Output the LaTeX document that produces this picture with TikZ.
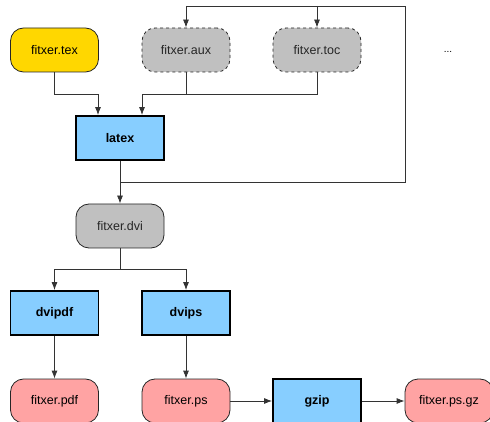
\documentclass[tikz,border=0pt]{standalone}
\usepackage{fontspec}
\setmainfont{Liberation Sans}
\usetikzlibrary{arrows.meta}
\definecolor{texfill}{HTML}{FFD700}
\definecolor{grayfill}{HTML}{C0C0C0}
\definecolor{procfill}{HTML}{87CEFF}
\definecolor{outfill}{HTML}{FFA3A3}
\tikzset{
  base/.style={minimum width=88pt, minimum height=44pt, inner sep=0pt, font=\fontsize{12.5}{14}\selectfont, draw=black!85},
  filebox/.style={base, rounded corners=13pt, line width=0.8pt},
  srcfile/.style={filebox, fill=texfill},
  auxfile/.style={filebox, fill=grayfill, dashed, text=black!85},
  midfile/.style={filebox, fill=grayfill, text=black!85},
  outfile/.style={filebox, fill=outfill},
  procbox/.style={base, fill=procfill, line width=1.8pt, draw=black, font=\fontsize{12.5}{14}\selectfont\bfseries},
  conn/.style={draw=black!80, line width=0.8pt},
  arr/.style={conn, -{Latex[length=8pt,width=6pt]}}
}
\begin{document}
\begin{tikzpicture}[x=1pt,y=-1pt]
\useasboundingbox (0,0) rectangle (490,422);
\node[srcfile] (tex) at (54.5,50) {fitxer.tex};
\node[auxfile] (aux) at (186,50) {fitxer.aux};
\node[auxfile] (toc) at (317,50) {fitxer.toc};
\node[font=\fontsize{10}{12}\selectfont] (dots) at (448,52) {...};
\node[procbox] (latex) at (120,138) {latex};
\node[midfile] (dvi) at (120,226) {fitxer.dvi};
\node[procbox] (dvipdf) at (54.5,313) {dvipdf};
\node[procbox] (dvips) at (186,313) {dvips};
\node[outfile] (pdf) at (54.5,401) {fitxer.pdf};
\node[outfile] (ps) at (186,401) {fitxer.ps};
\node[procbox] (gzip) at (317,401) {gzip};
\node[outfile] (psgz) at (449,401) {fitxer.ps.gz};
% inputs to latex
\coordinate (j1) at (0,94);
\coordinate (la) at (98,0);
\coordinate (lb) at (142,0);
\draw[arr] (tex.south) |- (la |- j1) -- (la |- latex.north);
\draw[arr] (toc.south) |- (lb |- j1) -- (lb |- latex.north);
\draw[conn] (aux.south) -- (aux.south |- j1);
% latex to dvi and feedback
\coordinate (fb) at (120,182);
\coordinate (fbr) at (405,182);
\coordinate (fbt) at (405,6);
\draw[arr] (latex.south) -- (dvi.north);
\draw[conn] (fb) -- (fbr) -- (fbt) -- (aux.north |- fbt);
\draw[arr] (aux.north |- fbt) -- (aux.north);
\draw[arr] (toc.north |- fbt) -- (toc.north);
% dvi split
\coordinate (sp) at (120,269);
\draw[conn] (dvi.south) -- (sp);
\draw[arr] (sp) -| (dvipdf.north);
\draw[arr] (sp) -| (dvips.north);
% outputs
\draw[arr] (dvipdf.south) -- (pdf.north);
\draw[arr] (dvips.south) -- (ps.north);
\draw[arr] (ps.east) -- (gzip.west);
\draw[arr] (gzip.east) -- (psgz.west);
\end{tikzpicture}
\end{document}
